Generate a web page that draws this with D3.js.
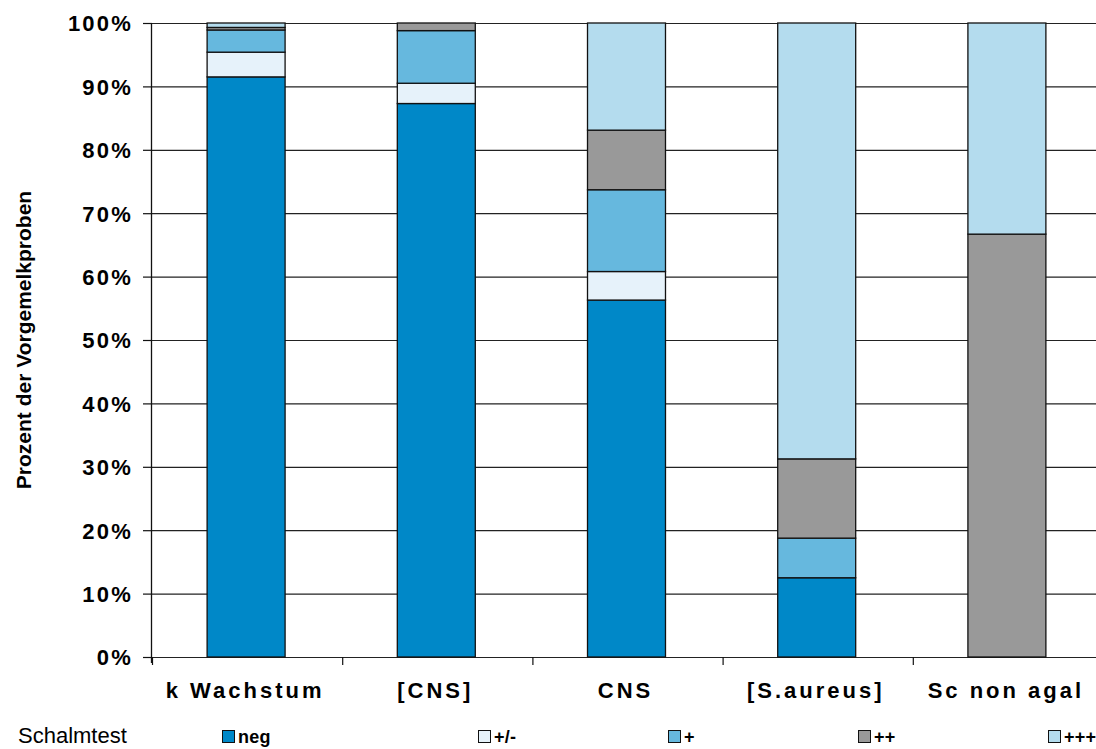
<!DOCTYPE html>
<html><head><meta charset="utf-8">
<script src="https://cdn.jsdelivr.net/npm/d3@7"></script>
<style>body{margin:0;background:#fff}svg{display:block}text{font-family:"Liberation Sans",Arial,Helvetica,sans-serif}</style>
</head><body><svg id="c" width="1096" height="749"></svg>
<script>
const categories = ["k Wachstum", "[CNS]", "CNS", "[S.aureus]", "Sc non agal"];
const seriesNames = ["neg", "+/-", "+", "++", "+++"];
const neg   = [91.5, 87.3, 56.3, 12.5, 0];
const pm    = [3.9, 3.2, 4.5, 0, 0];
const plus  = [3.5, 8.3, 12.9, 6.25, 0];
const plus2 = [0.4, 1.2, 9.4, 12.5, 66.7];
const plus3 = [0.7, 0, 16.9, 68.75, 33.3];
const colors = ["#0088C8", "#E6F2FA", "#66B8DE", "#999999", "#B4DCEE"];
const yTicks = [0, 10, 20, 30, 40, 50, 60, 70, 80, 90, 100];

const svg = d3.select("#c");
const m = {l: 152, t: 23, r: 1103, b: 657};
const x = d3.scaleBand().domain(categories).range([m.l, m.r]).paddingInner(0).paddingOuter(0);
const y = d3.scaleLinear().domain([0, 100]).range([m.b, m.t]);

const rows = categories.map((c, i) => ({cat: c, neg: neg[i], "+/-": pm[i], "+": plus[i], "++": plus2[i], "+++": plus3[i]}));
const stack = d3.stack().keys(seriesNames)(rows);

// gridlines
svg.append("g").selectAll("line").data(yTicks).join("line")
  .attr("x1", m.l).attr("x2", m.r).attr("y1", d => y(d) + 0.5).attr("y2", d => y(d) + 0.5)
  .attr("stroke", "#222").attr("stroke-width", 1.2);

const bw = x.bandwidth() * 0.41;
svg.append("g").selectAll("g").data(stack).join("g")
  .attr("fill", (d, i) => colors[i])
  .selectAll("rect").data(d => d.filter(p => p[1] - p[0] > 0)).join("rect")
  .attr("x", d => x(d.data.cat) + x.bandwidth() / 2 - bw / 2 - 1)
  .attr("width", bw)
  .attr("y", d => y(d[1]))
  .attr("height", d => y(d[0]) - y(d[1]))
  .attr("stroke", "#111").attr("stroke-width", 1.3);

// y axis
const ya = svg.append("g").attr("transform", `translate(${m.l},0)`)
  .call(d3.axisLeft(y).tickValues(yTicks).tickSize(9).tickPadding(12).tickFormat(d => d + "%"));
ya.select(".domain").attr("stroke", "#111").attr("stroke-width", 1.3).attr("d", `M-0.5,${m.t}V${m.b + 6}`);
ya.selectAll(".tick line").attr("stroke", "#111").attr("stroke-width", 1.2);
ya.selectAll(".tick text").attr("font-family", "Liberation Sans, Arial, sans-serif")
  .attr("font-size", 22).attr("font-weight", "bold").attr("fill", "#000")
  .style("letter-spacing", "2.2px").attr("dy", "0.36em").attr("dx", "2");

// x axis
const xTickPos = d3.range(categories.length).map(i => m.l + i * x.step());
svg.append("g").selectAll("line").data(xTickPos).join("line")
  .attr("x1", d => d + 0.5).attr("x2", d => d + 0.5).attr("y1", m.b).attr("y2", m.b + 8)
  .attr("stroke", "#111").attr("stroke-width", 1.2);
svg.append("g").selectAll("text").data(categories).join("text")
  .attr("x", d => x(d) + x.bandwidth() / 2 - 2).attr("y", 698)
  .attr("text-anchor", "middle").attr("font-size", 22).attr("font-weight", "bold")
  .style("letter-spacing", "3px").text(d => d);

// y title
svg.append("text").attr("transform", `translate(31,${(m.t + m.b) / 2}) rotate(-90)`)
  .attr("text-anchor", "middle").attr("font-size", 21).attr("font-weight", "bold")
  .text("Prozent der Vorgemelkproben");

// legend
svg.append("text").attr("x", 18).attr("y", 743).attr("font-size", 22).text("Schalmtest");
const lgX = i => i === 0 ? 222 : 288 + i * 190;
const lg = svg.append("g").selectAll("g").data(seriesNames).join("g")
  .attr("transform", (d, i) => `translate(${lgX(i)},0)`);
lg.append("rect").attr("x", 0.5).attr("y", 730.5).attr("width", 12).attr("height", 12)
  .attr("fill", (d, i) => colors[i]).attr("stroke", "#111").attr("stroke-width", 1);
lg.append("text").attr("x", 16).attr("y", 743).attr("font-size", 18).attr("font-weight", "bold")
  .style("letter-spacing", "0.3px").text(d => d);
</script></body></html>
